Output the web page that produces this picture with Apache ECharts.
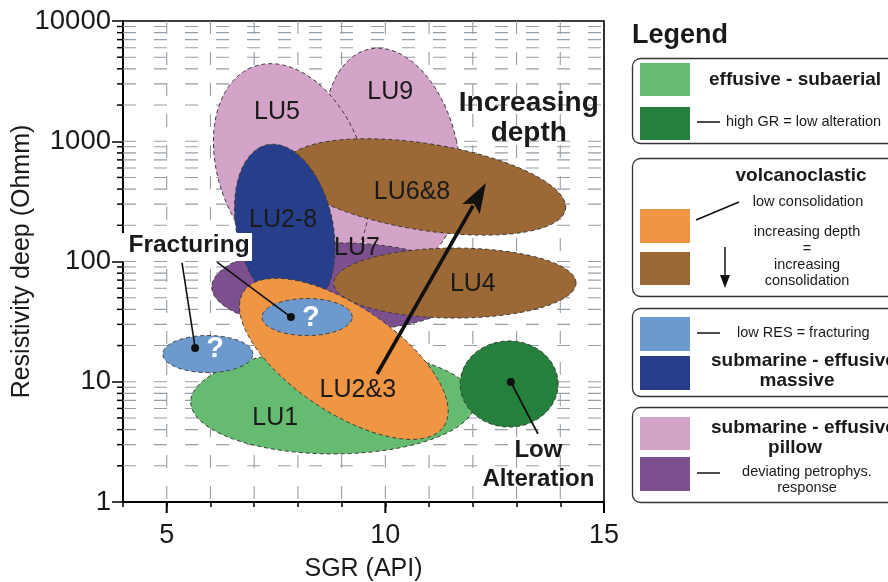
<!DOCTYPE html>
<html><head><meta charset="utf-8">
<script src="https://cdn.jsdelivr.net/npm/echarts@6/dist/echarts.min.js"></script>
<style>html,body{margin:0;padding:0;background:#fff}#c{width:888px;height:582px}</style>
</head><body><div id="c"></div>
<script>
// ---------------- data ----------------
// zones: centre (SGR, resistivity), half-extent in SGR units and in decades, tilt (deg, counter-clockwise)
const zoneNames      = ['LU9', 'LU5', 'LU6&8', 'LU7', 'LU2-8', 'LU1', 'LU2&3', 'LU4', 'frac1', 'frac2', 'lowAlt'];
const zoneSGR        = [10.15, 7.85, 10.91, 8.96, 7.70, 8.80, 9.05, 11.59, 8.21, 5.94, 12.83];
const zoneRes        = [769, 577, 417, 61.4, 190, 6.79, 15.5, 66.2, 34.5, 17.0, 9.58];
const zoneHalfSGR    = [1.51, 1.66, 3.25, 2.93, 1.10, 3.25, 2.76, 2.77, 1.03, 1.03, 1.12];
const zoneHalfDecade = [0.90, 0.915, 0.36, 0.366, 0.707, 0.432, 0.441, 0.291, 0.154, 0.154, 0.358];
const zoneTilt       = [12, 20, -9, 0, 12, 0, -34, 0, 0, 0, 0];

// zone labels
const labelText = ['LU5', 'LU9', 'LU6&8', 'LU2-8', 'LU7', 'LU4', 'LU2&3', 'LU1'];
const labelSGR  = [7.52, 10.11, 10.61, 7.66, 9.35, 12.0, 9.37, 7.48];
const labelRes  = [1750, 2570, 378, 221, 129, 65, 8.54, 5.0];

// annotation anchors
const fracDotSGR = [7.84, 5.65];
const fracDotRes = [34.5, 19.1];
const fracLeadSGR = [6.15, 5.35];
const fracLeadRes = [99, 97.2];
const fracLabel = [5.51, 137];
const lowAltDot = [12.87, 9.95];
const lowAltLead = [13.49, 3.68];
const lowAltLabel = [13.5, 2.71, 1.55];
const depthArrowFrom = [9.81, 11.6];
const depthArrowTo = [12.30, 450];
const depthLabel = [13.28, 2080, 1172];

// axis ticks
const xMajorTicks = [5, 10, 15];
const xGridValues = [5, 6, 7, 8, 9, 10, 11, 12, 13, 14];
const yGridValues = [];
for (let d = 1; d <= 1000; d *= 10) for (let k = 1; k <= 9; k++) if (k * d > 1) yGridValues.push(k * d);

// ---------------- styles ----------------
const FONT = '"Liberation Sans", Arial, sans-serif';
const TXT = '#1a1a1a';
const zoneColor = {
  'LU9': '#d4a3c8', 'LU5': '#d4a3c8', 'LU6&8': '#9c6936', 'LU7': '#7c4f8f', 'LU2-8': '#273f8b',
  'LU1': '#65bb6f', 'LU2&3': '#ef9645', 'LU4': '#9c6936', 'frac1': '#6d9acd', 'frac2': '#6d9acd', 'lowAlt': '#24803a'
};

function ellipsePoints(api, sgr, res, hx, hd, tiltDeg) {
  const c = api.coord([sgr, res]);
  const px = api.coord([sgr + hx, res])[0] - c[0];
  const py = c[1] - api.coord([sgr, res * Math.pow(10, hd)])[1];
  const t = tiltDeg * Math.PI / 180;
  const pts = [];
  for (let i = 0; i < 160; i++) {
    const a = i / 160 * 2 * Math.PI;
    const ex = px * Math.cos(a), ey = -py * Math.sin(a);
    pts.push([c[0] + ex * Math.cos(t) + ey * Math.sin(t), c[1] - ex * Math.sin(t) + ey * Math.cos(t)]);
  }
  return pts;
}

const chart = echarts.init(document.getElementById('c'), null, {renderer: 'canvas'});

const gridLineStyle = {stroke: '#969ea6', lineWidth: 1.1, lineDash: [13, 18]};

const option = {
  animation: false,
  backgroundColor: '#fff',
  grid: {left: 123, top: 21, width: 481, height: 481, containLabel: false, outerBoundsMode: 'none',
    show: true, borderColor: '#000', borderWidth: 1.6, backgroundColor: 'transparent'},
  xAxis: {
    type: 'value', min: 4, max: 15, interval: 1,
    axisLine: {lineStyle: {color: '#000', width: 2}},
    axisTick: {length: 5, lineStyle: {color: '#000', width: 1.5}},
    axisLabel: {formatter: v => (v % 5 === 0 && v > 4) ? String(v) : '', fontSize: 27, color: TXT, fontFamily: FONT, margin: 20},
    splitLine: {show: false},
    name: 'SGR (API)', nameLocation: 'middle', nameGap: 55, nameMoveOverlap: false,
    nameTextStyle: {fontSize: 25, color: TXT, fontFamily: FONT}
  },
  yAxis: {
    type: 'log', logBase: 10, min: 1, max: 10000,
    axisLine: {lineStyle: {color: '#000', width: 2}},
    axisTick: {length: 11, lineStyle: {color: '#000', width: 1.5}},
    axisLabel: {formatter: v => String(Math.round(v)), fontSize: 27.5, color: TXT, fontFamily: FONT, margin: 12},
    splitLine: {show: false},
    name: 'Resistivity deep (Ohmm)', nameLocation: 'middle', nameGap: 88, nameMoveOverlap: false,
    nameTextStyle: {fontSize: 25, color: TXT, fontFamily: FONT}
  },
  series: [
    { // vertical dashed grid
      type: 'custom', z: 1, silent: true, clip: false,
      data: xGridValues.map(v => [v, 1]),
      renderItem: (params, api) => {
        const b = api.coord([api.value(0), 1]);
        const t = api.coord([api.value(0), 10000]);
        return {type: 'line', shape: {x1: b[0], y1: b[1] - 3, x2: t[0], y2: t[1]}, style: gridLineStyle};
      }
    },
    { // horizontal dashed grid + minor y ticks
      type: 'custom', z: 1, silent: true, clip: false,
      data: yGridValues.map(v => [4, v]),
      renderItem: (params, api) => {
        const l = api.coord([4, api.value(1)]);
        const r = api.coord([15, api.value(1)]);
        const isDecade = Math.abs(Math.log10(api.value(1)) % 1) < 1e-6;
        const children = [{type: 'line', shape: {x1: l[0], y1: l[1], x2: r[0], y2: r[1]}, style: gridLineStyle}];
        if (!isDecade) children.push({type: 'line', shape: {x1: l[0] - 6, y1: l[1], x2: l[0], y2: l[1]}, style: {stroke: '#000', lineWidth: 1.5}});
        return {type: 'group', children};
      }
    },
    { // major x ticks
      type: 'custom', z: 5, silent: true, clip: false,
      data: xMajorTicks.map(v => [v, 1]),
      renderItem: (params, api) => {
        const p = api.coord([api.value(0), 1]);
        return {type: 'line', shape: {x1: p[0], y1: p[1], x2: p[0], y2: p[1] + 11}, style: {stroke: '#000', lineWidth: 2}};
      }
    },
    { // zones
      type: 'custom', z: 2, silent: true, clip: false,
      data: zoneNames.map((n, i) => [zoneSGR[i], zoneRes[i]]),
      renderItem: (params, api) => {
        const i = params.dataIndex;
        const pts = ellipsePoints(api, zoneSGR[i], zoneRes[i], zoneHalfSGR[i], zoneHalfDecade[i], zoneTilt[i]);
        return {type: 'polygon', shape: {points: pts},
          style: {fill: zoneColor[zoneNames[i]], stroke: '#3a3a3a', lineWidth: 1, lineDash: [4, 3]}};
      }
    },
    { // zone labels
      type: 'custom', z: 3, silent: true, clip: false,
      data: labelText.map((t, i) => [labelSGR[i], labelRes[i]]),
      renderItem: (params, api) => {
        const p = api.coord([api.value(0), api.value(1)]);
        return {type: 'text', x: p[0], y: p[1],
          style: {text: labelText[params.dataIndex], fill: TXT, fontSize: 25, fontFamily: FONT,
            align: 'center', verticalAlign: 'middle', textAlign: 'center', textVerticalAlign: 'middle'}};
      }
    },
    { // annotations
      type: 'custom', z: 4, silent: true, clip: false,
      data: [[depthArrowFrom[0], depthArrowFrom[1]]],
      renderItem: (params, api) => {
        const ch = [];
        const c = v => api.coord(v);
        const txt = (p, s, size, bold, fill) => ({type: 'text', x: p[0], y: p[1],
          style: {text: s, fill: fill || TXT, fontSize: size, fontWeight: bold ? 'bold' : 'normal', fontFamily: FONT,
            align: 'center', verticalAlign: 'middle', textAlign: 'center', textVerticalAlign: 'middle'}});
        // depth arrow
        const a0 = c(depthArrowFrom), a1 = c(depthArrowTo);
        const dx = a1[0] - a0[0], dy = a1[1] - a0[1], L = Math.hypot(dx, dy);
        const ux = dx / L, uy = dy / L, hl = 30, hw = 10;
        const bx = a1[0] - ux * hl, by = a1[1] - uy * hl;
        ch.push({type: 'line', shape: {x1: a0[0], y1: a0[1], x2: bx + ux * 4, y2: by + uy * 4}, style: {stroke: '#111', lineWidth: 3.6}});
        ch.push({type: 'polygon', shape: {points: [[a1[0], a1[1]], [bx - uy * hw, by + ux * hw], [bx + ux * 6, by + uy * 6], [bx + uy * hw, by - ux * hw]]}, style: {fill: '#111'}});
        // fracturing label
        const fl = c(fracLabel);
        ch.push({type: 'rect', shape: {x: fl[0] - 69, y: fl[1] - 12, width: 132, height: 28}, style: {fill: '#fff'}});
        ch.push(txt([fl[0], fl[1]], 'Fracturing', 24.5, true));
        for (let k = 0; k < 2; k++) {
          const d = c([fracDotSGR[k], fracDotRes[k]]);
          const s = c([fracLeadSGR[k], fracLeadRes[k]]);
          ch.push({type: 'line', shape: {x1: s[0], y1: s[1], x2: d[0], y2: d[1]}, style: {stroke: '#111', lineWidth: 1.6}});
          ch.push({type: 'circle', shape: {cx: d[0], cy: d[1], r: 4}, style: {fill: '#111'}});
          ch.push(txt([d[0] + 20, d[1] + 1], '?', 29, true, '#fff'));
        }
        // low alteration
        const ld = c(lowAltDot), ll = c(lowAltLead);
        ch.push({type: 'line', shape: {x1: ld[0], y1: ld[1], x2: ll[0], y2: ll[1]}, style: {stroke: '#111', lineWidth: 1.8}});
        ch.push({type: 'circle', shape: {cx: ld[0], cy: ld[1], r: 4}, style: {fill: '#111'}});
        ch.push(txt(c([lowAltLabel[0], lowAltLabel[1]]), 'Low', 24, true));
        ch.push(txt(c([lowAltLabel[0], lowAltLabel[2]]), 'Alteration', 24, true));
        // increasing depth
        ch.push(txt(c([depthLabel[0], depthLabel[1]]), 'Increasing', 28, true));
        ch.push(txt(c([depthLabel[0], depthLabel[2]]), 'depth', 28, true));
        return {type: 'group', children: ch};
      }
    }
  ],
  graphic: (function () {
    const els = [];
    const T = (x, y, s, size, bold, align) => ({type: 'text', x, y, z: 10,
      style: {text: s, fill: TXT, fontSize: size, fontWeight: bold ? 'bold' : 'normal', fontFamily: FONT,
        align: align || 'left', textAlign: align || 'left', verticalAlign: 'middle', textVerticalAlign: 'middle'}});
    const box = (y, h) => ({type: 'rect', z: 9, shape: {x: 632.5, y: y, width: 290, height: h, r: 8}, style: {fill: '#fff', stroke: '#333', lineWidth: 1.3}});
    const sw = (y, h, color) => ({type: 'rect', z: 10, shape: {x: 640, y: y, width: 50, height: h}, style: {fill: color}});
    const ln = (x1, y1, x2, y2) => ({type: 'line', z: 10, shape: {x1, y1, x2, y2}, style: {stroke: '#111', lineWidth: 1.5}});
    els.push(T(632, 36, 'Legend', 27, true));
    els.push(box(58.5, 85));
    els.push(sw(63, 33, '#65bb6f'), sw(107, 33, '#24803a'));
    els.push(T(709, 80, 'effusive - subaerial', 19, true));
    els.push(ln(697, 122, 720, 122), T(726, 122, 'high GR = low alteration', 14.5));
    els.push(box(158.5, 138));
    els.push(T(801, 176, 'volcanoclastic', 19, true, 'center'));
    els.push(T(808, 202, 'low consolidation', 14.5, false, 'center'));
    els.push(sw(209, 34, '#ef9645'), sw(252, 33, '#9c6936'));
    els.push(ln(696, 220, 739, 202));
    els.push(T(807, 232, 'increasing depth', 14.5, false, 'center'));
    els.push(T(807, 249, '=', 14.5, false, 'center'));
    els.push(T(807, 265, 'increasing', 14.5, false, 'center'));
    els.push(T(807, 281, 'consolidation', 14.5, false, 'center'));
    els.push(ln(725, 247, 725, 277));
    els.push({type: 'polygon', z: 10, shape: {points: [[720, 275], [730, 275], [725, 288]]}, style: {fill: '#111'}});
    els.push(box(308.5, 88));
    els.push(sw(317, 34, '#6d9acd'), sw(356, 34, '#273f8b'));
    els.push(ln(697, 333, 720, 333), T(737, 333, 'low RES = fracturing', 14.5));
    els.push(T(711, 361, 'submarine - effusive', 19, true));
    els.push(T(797, 381, 'massive', 19, true, 'center'));
    els.push(box(407.5, 95));
    els.push(sw(417, 33, '#d4a3c8'), sw(457, 34, '#7c4f8f'));
    els.push(T(711, 428, 'submarine - effusive', 19, true));
    els.push(T(795, 448, 'pillow', 19, true, 'center'));
    els.push(ln(697, 473, 720, 473));
    els.push(T(807, 472, 'deviating petrophys.', 14.5, false, 'center'));
    els.push(T(807, 488, 'response', 14.5, false, 'center'));
    return els;
  })()
};
chart.setOption(option);
</script>
</body></html>
